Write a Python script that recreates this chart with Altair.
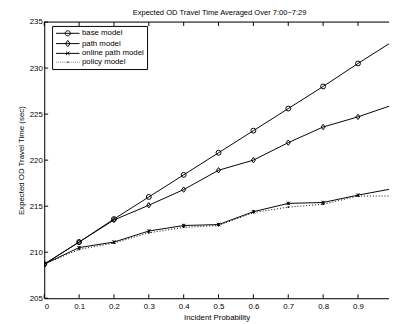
import altair as alt
import pandas as pd

# ---- data ----
incident_prob = [0.0, 0.1, 0.2, 0.3, 0.4, 0.5, 0.6, 0.7, 0.8, 0.9, 1.0]
base_model = [208.7, 211.1, 213.6, 216.0, 218.4, 220.8, 223.2, 225.6, 228.0, 230.5, 232.9]
path_model = [208.7, 211.1, 213.5, 215.1, 216.8, 218.9, 220.0, 221.9, 223.6, 224.7, 226.0]
online_path_model = [208.7, 210.5, 211.1, 212.3, 212.9, 213.0, 214.4, 215.3, 215.4, 216.2, 216.9]
policy_model = [208.7, 210.3, 211.0, 212.1, 212.7, 212.9, 214.3, 214.9, 215.2, 216.1, 216.1]

models = ["base model", "path model", "online path model", "policy model"]
x_ticks = [0.0, 0.1, 0.2, 0.3, 0.4, 0.5, 0.6, 0.7, 0.8, 0.9]
y_ticks = [205, 210, 215, 220, 225, 230, 235]

series = {
    "base model": base_model,
    "path model": path_model,
    "online path model": online_path_model,
    "policy model": policy_model,
}
rows = []
for m in models:
    for xv, yv in zip(incident_prob, series[m]):
        rows.append({"x": xv, "y": yv, "model": m})
df = pd.DataFrame(rows)
xt_df = pd.DataFrame({"x": x_ticks})
yt_df = pd.DataFrame({"y": y_ticks})
one_df = pd.DataFrame({"k": [0]})

W, H = 352, 282
FONT = "Liberation Sans"

xscale = alt.Scale(domain=[0, 0.989], nice=False, zero=False)
yscale = alt.Scale(domain=[205, 235], nice=False, zero=False)

x_axis = alt.Axis(values=x_ticks, labelExpr="datum.value == 0 ? '0' : format(datum.value, '.1f')",
                  title="Incident Probability", ticks=False, grid=False, labelOverlap=False,
                  labelPadding=4, titlePadding=4, titleFontWeight="normal",
                  labelFont=FONT, titleFont=FONT, labelFontSize=8, titleFontSize=8,
                  labelColor="black", titleColor="black", domainColor="black", domainWidth=1)
y_axis = alt.Axis(values=y_ticks, title="Expected OD Travel Time (sec)", ticks=False, grid=False,
                  labelOverlap=False, labelPadding=2, titlePadding=4, titleFontWeight="normal",
                  labelFont=FONT, titleFont=FONT, labelFontSize=8, titleFontSize=8,
                  labelColor="black", titleColor="black", domainColor="black", domainWidth=1)

x_enc = alt.X("x:Q", scale=xscale, axis=x_axis)
y_enc = alt.Y("y:Q", scale=yscale, axis=y_axis)

base = alt.Chart(df)

solid_lines = base.transform_filter("datum.model != 'policy model'").mark_line(
    color="black", strokeWidth=1, clip=True
).encode(x=x_enc, y=y_enc, detail="model:N")

dotted_line = base.transform_filter("datum.model == 'policy model'").mark_line(
    color="black", strokeWidth=1, strokeDash=[1, 2], clip=True
).encode(x=x_enc, y=y_enc)

circles = base.transform_filter("datum.model == 'base model'").mark_point(
    shape="circle", size=25, filled=False, color="black", strokeWidth=1, opacity=1, clip=True
).encode(x=x_enc, y=y_enc)

diamonds = base.transform_filter("datum.model == 'path model'").mark_point(
    shape="M0,-1L0.75,0L0,1L-0.75,0Z", size=30, filled=False, color="black", strokeWidth=1, opacity=1, clip=True
).encode(x=x_enc, y=y_enc)

crosses = base.transform_filter("datum.model == 'online path model'").mark_point(
    shape="M-1,-1L1,1M-1,1L1,-1M0,-1L0,1", size=12, filled=False, color="black", strokeWidth=1, opacity=1, clip=True
).encode(x=x_enc, y=y_enc)

dots = base.transform_filter("datum.model == 'policy model'").mark_point(
    shape="circle", size=3, filled=True, color="black", opacity=1, clip=True
).encode(x=x_enc, y=y_enc)

dotted = "".join("M%.2f,0h0.12" % (-3 + i * 0.5) for i in range(13))
legend_paths = [
    "M-3,0H3M0.65,0A0.65,0.65 0 1,1 -0.65,0A0.65,0.65 0 1,1 0.65,0",
    "M-3,0H3M0,-0.8L0.6,0L0,0.8L-0.6,0Z",
    "M-3,0H3M-0.45,-0.45L0.45,0.45M-0.45,0.45L0.45,-0.45",
    dotted + "M-0.2,0h0.4",
]

# legend carrier: marks pushed out of the (clipped) view, only the legend shows
legend_layer = base.transform_calculate(hidden="1000").mark_point(
    filled=False, color="black", size=64, strokeWidth=1, opacity=1, clip=True
).encode(
    x=x_enc, y=alt.Y("hidden:Q", scale=yscale, axis=y_axis),
    shape=alt.Shape("model:N", scale=alt.Scale(domain=models, range=legend_paths),
                    legend=alt.Legend(title=None, orient="none", legendX=8, legendY=4,
                                      strokeColor="black", fillColor="white", padding=3,
                                      symbolSize=64, symbolStrokeWidth=1, symbolStrokeColor="black",
                                      symbolOffset=8.5, labelOffset=10, rowPadding=-0.5,
                                      labelFont=FONT, labelFontSize=8, labelColor="black",
                                      labelLimit=300)),
)

bottom_ticks = alt.Chart(xt_df).mark_rule(color="black", strokeWidth=1).encode(
    x=x_enc, y=alt.value(H), y2=alt.value(H - 4))
top_ticks = alt.Chart(xt_df).mark_rule(color="black", strokeWidth=1).encode(
    x=x_enc, y=alt.value(0), y2=alt.value(4))
left_ticks = alt.Chart(yt_df).mark_rule(color="black", strokeWidth=1).encode(
    y=y_enc, x=alt.value(0), x2=alt.value(4))
top_line = alt.Chart(one_df).mark_rule(color="black", strokeWidth=1).encode(
    x=alt.value(0), x2=alt.value(W), y=alt.value(0))

chart = alt.layer(
    solid_lines, dotted_line, circles, diamonds, crosses, dots, legend_layer,
    bottom_ticks, top_ticks, left_ticks, top_line,
).properties(
    width=W, height=H,
    title=alt.TitleParams("Expected OD Travel Time Averaged Over 7:00~7:29", font=FONT, fontSize=7.7,
                          fontWeight="normal", color="black", anchor="middle", offset=1, dx=3),
    autosize=alt.AutoSizeParams(type="none"),
    padding={"left": 37, "top": 11, "right": 0, "bottom": 24},
).configure_view(stroke=None).configure_axis(
    labelFont=FONT, titleFont=FONT, labelFontSize=8, titleFontSize=8, labelOverlap=False,
    labelColor="black", titleColor="black", domainColor="black", domainWidth=1,
).configure(background="white")

chart.save("out.html", embed_options={"renderer": "svg", "actions": False})
